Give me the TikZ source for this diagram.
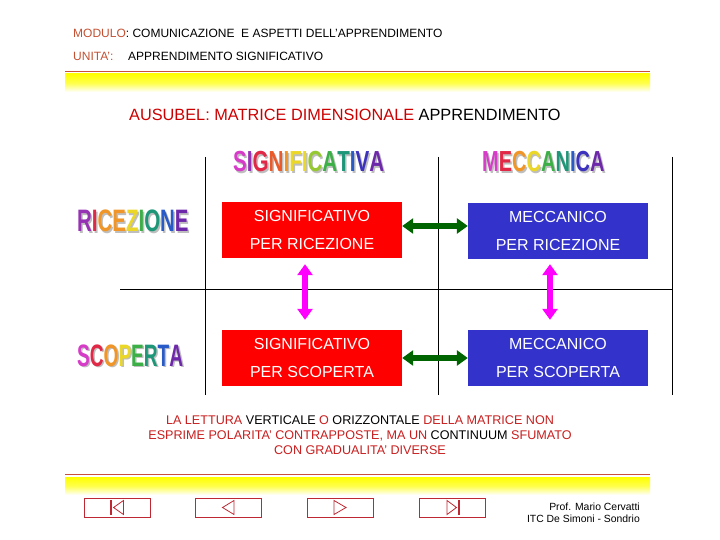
\documentclass[tikz,border=0pt]{standalone}
\usepackage{fontspec}
\setmainfont{Liberation Sans}
\usetikzlibrary{arrows.meta}
\definecolor{hdrred}{RGB}{195,80,50}
\definecolor{tred}{RGB}{204,0,0}
\definecolor{nred}{RGB}{200,30,30}
\definecolor{lred}{RGB}{200,80,60}
\definecolor{btnred}{RGB}{190,40,50}
\definecolor{cred}{RGB}{255,0,0}
\definecolor{cblue}{RGB}{51,51,204}
\definecolor{dgreen}{RGB}{0,100,0}
\definecolor{mag}{RGB}{255,0,255}
\definecolor{shadowc}{RGB}{190,190,190}
\definecolor{w1}{RGB}{214,60,200}
\definecolor{w2}{RGB}{150,50,180}
\definecolor{w3}{RGB}{225,40,70}
\definecolor{w4}{RGB}{235,90,40}
\definecolor{w5}{RGB}{240,150,40}
\definecolor{w6}{RGB}{235,215,40}
\definecolor{w7}{RGB}{150,200,50}
\definecolor{w8}{RGB}{60,175,70}
\definecolor{w9}{RGB}{30,150,120}
\definecolor{w10}{RGB}{40,90,200}
\definecolor{w11}{RGB}{60,50,190}
\definecolor{w12}{RGB}{110,40,170}
\newif\ifshad
\newcommand\wlt[2]{\ifshad\textcolor{shadowc}{#2}\else\textcolor{#1}{#2}\fi}
\newcommand\wSIG{\wlt{w1}{S}\wlt{w2}{I}\wlt{w3}{G}\wlt{w4}{N}\wlt{w5}{I}\wlt{w6}{F}\wlt{w6}{I}\wlt{w7}{C}\wlt{w8}{A}\wlt{w9}{T}\wlt{w10}{I}\wlt{w11}{V}\wlt{w12}{A}}
\newcommand\wMEC{\wlt{w1}{M}\wlt{w3}{E}\wlt{w5}{C}\wlt{w6}{C}\wlt{w8}{A}\wlt{w9}{N}\wlt{w10}{I}\wlt{w11}{C}\wlt{w12}{A}}
\newcommand\wRIC{\wlt{w2}{R}\wlt{w3}{I}\wlt{w5}{C}\wlt{w5}{E}\wlt{w6}{Z}\wlt{w8}{I}\wlt{w9}{O}\wlt{w10}{N}\wlt{w12}{E}}
\newcommand\wSCO{\wlt{w1}{S}\wlt{w3}{C}\wlt{w5}{O}\wlt{w6}{P}\wlt{w8}{E}\wlt{w9}{R}\wlt{w10}{T}\wlt{w12}{A}}
\newcommand\wordart[5]{%
  \node[wa, font=\fontsize{#4}{#4}\selectfont\bfseries] (#1sh) at ([shift={(1.5,1.5)}]#2) {\shadtrue\scalebox{#3}[1]{#5}};
  \node[wa, font=\fontsize{#4}{#4}\selectfont\bfseries] (#1) at (#2) {\shadfalse\scalebox{#3}[1]{#5}};}
\newcommand\hdrfont{\fontsize{12}{14}\selectfont}
\begin{document}
\begin{tikzpicture}[x=1pt,y=-1pt,
  lbl/.style={anchor=base west, inner sep=0pt},
  wa/.style={anchor=base west, inner sep=0pt},
  gridline/.style={line width=1pt, draw=black},
  redline/.style={line width=1pt, draw=lred},
  band/.style={top color=yellow, bottom color=white, middle color=yellow!70, draw=none},
  cell/.style={minimum width=180pt, minimum height=56pt, inner sep=0pt, text=white, align=center, font=\fontsize{16}{28}\selectfont},
  harrow/.style={line width=5.5pt, draw=dgreen, {Triangle[width=15pt,length=11pt]}-{Triangle[width=15pt,length=11pt]}},
  varrow/.style={line width=5.5pt, draw=mag, {Triangle[width=15pt,length=11pt]}-{Triangle[width=15pt,length=11pt]}},
  btn/.style={draw=btnred, line width=1pt, minimum width=66pt, minimum height=19pt, inner sep=0pt},
  btnsym/.style={draw=btnred, line width=0.8pt, line join=miter}]
\useasboundingbox (0,0) rectangle (720,540);
% header
\node[lbl, font=\hdrfont] (mod) at (73,38) {\textcolor{hdrred}{MODULO}: COMUNICAZIONE\ \ E ASPETTI DELL'APPRENDIMENTO};
\node[lbl, font=\hdrfont, text=hdrred] (uni) at (73,61) {UNITA':};
\node[lbl, font=\hdrfont] (unit) at (128,61) {APPRENDIMENTO SIGNIFICATIVO};
\draw[redline] (65,72) -- (650,72);
\fill[band] (65,74) rectangle (650,92);
% title
\node[lbl, font=\fontsize{16.3}{19}\selectfont] (title) at (129,121) {\textcolor{tred}{AUSUBEL: MATRICE DIMENSIONALE} APPRENDIMENTO};
% grid
\draw[gridline] (205,157) -- (205,395);
\draw[gridline] (438,157) -- (438,395);
\draw[gridline] (672,157) -- (672,395);
\draw[gridline] (120,289) -- (672,289);
% word art
\wordart{sig}{233,172}{0.71}{29}{\wSIG}
\wordart{mec}{482,172}{0.69}{29}{\wMEC}
\wordart{ric}{77,232}{0.66}{31}{\wRIC}
\wordart{sco}{77,366}{0.615}{31}{\wSCO}
% cells
\node[cell, fill=cred] (s1) at (312,230) {SIGNIFICATIVO\\PER RICEZIONE};
\node[cell, fill=cblue] (m1) at (558,231) {MECCANICO\\PER RICEZIONE};
\node[cell, fill=cred] (s2) at (312,358) {SIGNIFICATIVO\\PER SCOPERTA};
\node[cell, fill=cblue] (m2) at (558,358) {MECCANICO\\PER SCOPERTA};
\draw[harrow] ([yshift=4pt]s1.east) -- ([yshift=4pt]s1.east -| m1.west);
\draw[harrow] (s2.east) -- (s2.east -| m2.west);
\draw[varrow] ([xshift=-7pt,yshift=-6pt]s1.south) -- ([xshift=-7pt,yshift=10pt]s2.north);
\draw[varrow] ([xshift=-8pt,yshift=-5pt]m1.south) -- ([xshift=-8pt,yshift=10pt]m2.north);
% note
\node[font=\fontsize{12.6}{15}\selectfont, text=nred, align=center, inner sep=0pt] (note) at (360,435) {LA LETTURA \textcolor{black}{VERTICALE} O \textcolor{black}{ORIZZONTALE} DELLA MATRICE NON\\ESPRIME POLARITA' CONTRAPPOSTE, MA UN \textcolor{black}{CONTINUUM} SFUMATO\\CON GRADUALITA' DIVERSE};
% footer
\draw[redline] (65,474) -- (650,474);
\fill[band] (65,477) rectangle (650,495);
\node[btn] (b1) at (117.5,507.5) {};
\node[btn] (b2) at (228.5,507.5) {};
\node[btn] (b3) at (340.5,507.5) {};
\node[btn] (b4) at (452,507.5) {};
\draw[btnsym, line width=1.5pt] (111,500) -- (111,515);
\draw[btnsym] (113.5,507.5) -- (123.5,500.5) -- (123.5,514.5) -- cycle;
\draw[btnsym] (222.5,507.5) -- (234,500.5) -- (234,514.5) -- cycle;
\draw[btnsym] (346,507.5) -- (334,500.5) -- (334,514.5) -- cycle;
\draw[btnsym] (456.5,507.5) -- (447,500.5) -- (447,514.5) -- cycle;
\draw[btnsym, line width=1.5pt] (459,500) -- (459,515);
\node[anchor=base east, inner sep=0pt, font=\fontsize{10.4}{12}\selectfont] (prof) at (640,510) {Prof. Mario Cervatti};
\node[anchor=base east, inner sep=0pt, font=\fontsize{10.4}{12}\selectfont] (itc) at (640,522) {ITC De Simoni - Sondrio};
\end{tikzpicture}
\end{document}
